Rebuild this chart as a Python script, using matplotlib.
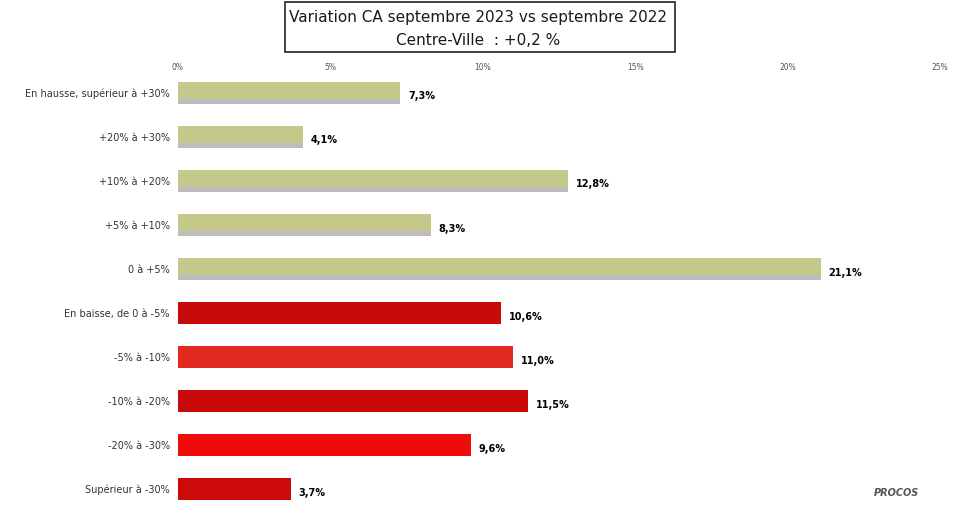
import matplotlib
matplotlib.use('Agg')
import matplotlib.pyplot as plt

# Chart data
categories = [
    "En hausse, supérieur à +30%",
    "+20% à +30%",
    "+10% à +20%",
    "+5% à +10%",
    "0 à +5%",
    "En baisse, de 0 à -5%",
    "-5% à -10%",
    "-10% à -20%",
    "-20% à -30%",
    "Supérieur à -30%",
]
values = [7.3, 4.1, 12.8, 8.3, 21.1, 10.6, 11.0, 11.5, 9.6, 3.7]
bar_colors = ['#C4C98B'] * 5 + ['#C80A0A', '#E22A20', '#C80A0A', '#EE0B0B', '#CC0A0A']
xticks = [0, 5, 10, 15, 20, 25]

fig = plt.figure(figsize=(9.62, 5.08), dpi=100)
ax = fig.add_axes([0.185, 0.007, 0.792, 0.849])

y = list(range(len(categories)))
ax.barh(y, values, height=0.5, color=bar_colors)
# gray shading on the lower edge of the green bars
ax.barh([i + 0.19 for i in y[:5]], values[:5], height=0.12, color='#BDBDBD')

for i, v in enumerate(values):
    ax.text(v + 0.25, i + 0.08, f"{v:.1f}%".replace('.', ','), va='center', ha='left',
            fontsize=7, fontweight='bold', color='black')

ax.set_xlim(0, 25)
ax.set_ylim(9.35, -0.45)
ax.set_yticks(y)
ax.set_yticklabels(categories, fontsize=7, color='#333333')
ax.set_xticks(xticks)
ax.set_xticklabels([f"{t}%" for t in xticks], fontsize=5.5, color='#555555')
ax.xaxis.tick_top()
ax.tick_params(axis='both', length=0)
ax.tick_params(axis='x', pad=1)
ax.tick_params(axis='y', pad=6)
for s in ax.spines.values():
    s.set_visible(False)

fig.text(0.497, 0.965, "Variation CA septembre 2023 vs septembre 2022",
         ha='center', va='center', fontsize=11, color='#1a1a1a')
fig.text(0.497, 0.92, "Centre-Ville  : +0,2 %", ha='center', va='center',
         fontsize=11, color='#1a1a1a')
box = plt.Rectangle((0.296, 0.898), 0.406, 0.098, transform=fig.transFigure,
                    fill=False, edgecolor='#222222', linewidth=1.2)
fig.patches.append(box)

fig.text(0.955, 0.03, "PROCOS", ha='right', va='center', fontsize=7,
         fontweight='bold', style='italic', color='#555555')

plt.savefig('out.png', dpi=100)
plt.close()
